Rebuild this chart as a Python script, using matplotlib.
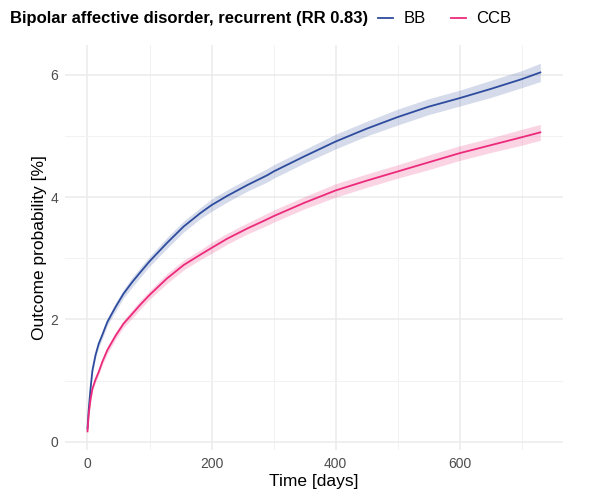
import matplotlib

matplotlib.use("Agg")
import matplotlib.pyplot as plt
import numpy as np
from matplotlib.lines import Line2D

plt.rcParams["font.family"] = ["Liberation Sans", "DejaVu Sans"]

TITLE = "Bipolar affective disorder, recurrent (RR 0.83)"

# cumulative incidence (%) sampled along follow-up
time_days = [0, 2, 5, 8, 13, 18, 24, 32, 45, 58, 72, 85, 100, 128, 155, 182, 200, 225, 258, 290,
             300, 350, 400, 450, 500, 550, 600, 650, 700, 730]
bb_prob = [0.22, 0.53, 0.88, 1.17, 1.42, 1.60, 1.75, 1.96, 2.20, 2.42, 2.61, 2.77, 2.95, 3.25, 3.52,
           3.74, 3.87, 4.02, 4.20, 4.36, 4.42, 4.67, 4.91, 5.12, 5.31, 5.48, 5.62, 5.77, 5.93, 6.04]
bb_ci = [0.02, 0.03, 0.04, 0.05, 0.05, 0.06, 0.06, 0.06, 0.07, 0.07, 0.08, 0.08, 0.08, 0.09, 0.09,
         0.09, 0.10, 0.10, 0.10, 0.11, 0.11, 0.11, 0.12, 0.12, 0.13, 0.13, 0.13, 0.14, 0.14, 0.15]
ccb_prob = [0.17, 0.45, 0.70, 0.87, 1.02, 1.14, 1.31, 1.50, 1.73, 1.93, 2.09, 2.24, 2.40, 2.67, 2.89,
            3.06, 3.17, 3.32, 3.49, 3.64, 3.69, 3.91, 4.11, 4.27, 4.42, 4.57, 4.72, 4.85, 4.98, 5.06]
ccb_ci = [0.02, 0.03, 0.04, 0.04, 0.05, 0.05, 0.05, 0.06, 0.06, 0.06, 0.07, 0.07, 0.07, 0.08, 0.08,
          0.08, 0.09, 0.09, 0.09, 0.10, 0.10, 0.10, 0.11, 0.11, 0.11, 0.12, 0.12, 0.12, 0.13, 0.13]

groups = ["BB", "CCB"]
colors = {"BB": "#2E4C9E", "CCB": "#EC2A7B"}

x_ticks = [0, 200, 400, 600]
y_ticks = [0, 2, 4, 6]


def main():
    fig = plt.figure(figsize=(6.06, 4.99), dpi=100)
    ax = fig.add_axes([0.107, 0.098, 0.822, 0.812])

    t = np.asarray(time_days, dtype=float)
    series = {"BB": (bb_prob, bb_ci), "CCB": (ccb_prob, ccb_ci)}
    for g in groups:
        p, ci = (np.asarray(a, dtype=float) for a in series[g])
        ax.fill_between(t, p - ci, p + ci, color=colors[g], alpha=0.2, linewidth=0)
        ax.plot(t, p, color=colors[g], linewidth=1.3)

    ax.set_xlim(-36.5, 766.5)
    ax.set_ylim(-0.136, 6.49)
    ax.set_xticks(x_ticks)
    ax.set_yticks(y_ticks)
    ax.set_xticks(np.arange(100, 800, 200), minor=True)
    ax.set_yticks([1, 3, 5], minor=True)
    ax.grid(True, which="major", color="#EBEBEB", linewidth=1.1)
    ax.grid(True, which="minor", color="#F2F2F2", linewidth=0.7)
    ax.set_axisbelow(True)
    for s in ax.spines.values():
        s.set_visible(False)
    ax.tick_params(which="both", length=0, labelsize=10, labelcolor="#4D4D4D", pad=5)

    ax.set_xlabel("Time [days]", fontsize=12.5, labelpad=2)
    ax.set_ylabel("Outcome probability [%]", fontsize=12.5, labelpad=2)

    fig.text(0.016, 0.962, TITLE, fontsize=12, fontweight="bold", va="center", ha="left")

    handles = [Line2D([0], [0], color=colors[g], linewidth=1.3) for g in groups]
    fig.legend(handles, groups, loc="center left", bbox_to_anchor=(0.623, 0.962), ncol=2,
               frameon=False, fontsize=12, handlelength=0.95, columnspacing=1.5,
               handletextpad=0.6, borderpad=0, borderaxespad=0)

    fig.savefig("out.png", dpi=100)
    plt.close(fig)


if __name__ == "__main__":
    main()
